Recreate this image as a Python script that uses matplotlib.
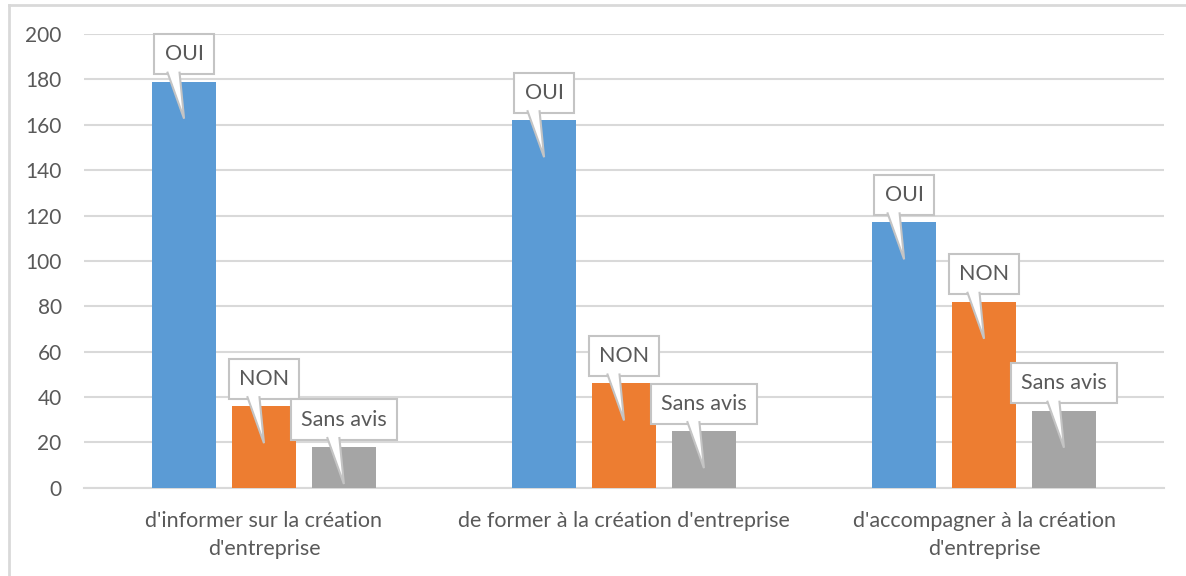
import numpy as np
import matplotlib.pyplot as plt
from matplotlib.patches import Polygon
from matplotlib.lines import Line2D
from matplotlib.transforms import ScaledTranslation

categories = ["d'informer sur la création\nd'entreprise",
              "de former à la création d'entreprise",
              "d'accompagner à la création\nd'entreprise"]
series = ["OUI", "NON", "Sans avis"]
oui = [179, 162, 117]
non = [36, 46, 82]
sans_avis = [18, 25, 34]
yticks = [0, 20, 40, 60, 80, 100, 120, 140, 160, 180, 200]

colors = ["#5B9BD5", "#ED7D31", "#A5A5A5"]
txt = "#595959"
grid = "#D9D9D9"

plt.rcParams['font.family'] = ['Lato', 'DejaVu Sans']

fig = plt.figure(figsize=(11.86, 5.76), dpi=100)
ax = fig.add_axes([0.0708, 0.153, 0.9107, 0.788])

x = np.arange(len(categories))
width = 0.178
step = 0.222
values = [oui, non, sans_avis]

for i, (name, vals) in enumerate(zip(series, values)):
    xs = x + (i - 1) * step
    ax.bar(xs, vals, width, color=colors[i], zorder=3)
    for xi, v in zip(xs, vals):
        # callout geometry in inches, anchored at the bar top
        tr = fig.dpi_scale_trans + ScaledTranslation(xi, v, ax.transData)
        ax.text(0, 0.275, name, transform=tr, ha="center", va="center",
                fontsize=15.5, color=txt, zorder=5,
                bbox=dict(boxstyle="square,pad=0.47", fc="white", ec="#C4C4C4", lw=1.5))
        ax.add_patch(Polygon([(-0.165, 0.105), (-0.045, 0.105), (0, -0.37)],
                             closed=True, fc="white", ec="none", transform=tr, zorder=6))
        ax.add_line(Line2D([-0.165, 0, -0.045], [0.09, -0.37, 0.09], color="#C4C4C4",
                           lw=1.5, transform=tr, zorder=6, solid_joinstyle="miter"))

ax.set_xlim(-0.5, 2.5)
ax.set_ylim(0, 200)
ax.set_yticks(yticks)
ax.set_xticks(x)
ax.set_xticklabels(categories, fontsize=15.5, color=txt, linespacing=1.45)
ax.tick_params(axis="x", length=0, pad=17)
ax.tick_params(axis="y", length=0, pad=16, labelsize=15, labelcolor=txt)
ax.yaxis.grid(True, color=grid, lw=1.5, zorder=0)
ax.set_axisbelow(True)
for s in ["left", "right", "top"]:
    ax.spines[s].set_visible(False)
ax.spines["bottom"].set_color(grid)
ax.spines["bottom"].set_linewidth(1.5)

# outer chart border (top and left only visible)
fig.add_artist(Line2D([0.0076, 1.0], [0.991, 0.991], color=grid, lw=2, transform=fig.transFigure))
fig.add_artist(Line2D([0.0076, 0.0076], [0.0, 0.991], color=grid, lw=2, transform=fig.transFigure))

fig.savefig("out.png", dpi=100)
